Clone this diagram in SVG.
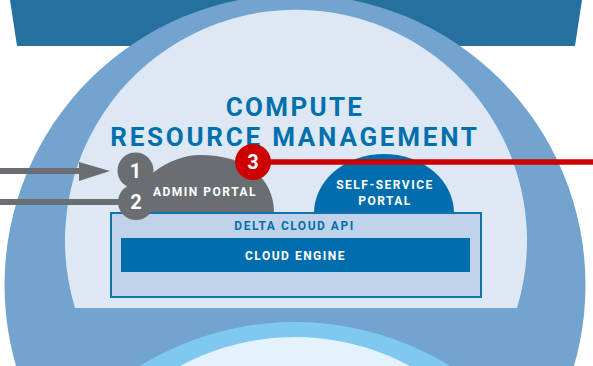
<svg xmlns="http://www.w3.org/2000/svg" width="593" height="366" viewBox="0 0 593 366">
<style>
text{font-family:"Roboto","Liberation Sans",sans-serif;font-weight:700;text-anchor:middle}
.t{font-size:26px;fill:#0070ac;letter-spacing:2.3px}
.s{font-size:12px;fill:#fff;letter-spacing:1.5px}
.n{font-size:20px;fill:#fff}
.g{fill:#6a6e73}
</style>
<rect width="593" height="366" fill="#fff"/>
<g id="backdrop">
<path d="M10 0H582L575 46H17Z" fill="#26709f"/>
<circle cx="295" cy="285" r="290.5" fill="#73a4cf"/>
<path d="M75 308A231 231 0 1 1 517 308Z" fill="#dee8f5"/>
<circle cx="295" cy="617" r="295" fill="#7fc9f0"/>
<circle cx="295" cy="580" r="243" fill="#e3f2fc"/>
</g>
<g id="title">
<text class="t" x="295" y="116">COMPUTE</text>
<text class="t" x="295" y="146" style="letter-spacing:2.75px">RESOURCE MANAGEMENT</text>
</g>
<g id="admin-portal">
<path class="g" d="M140 213V185L154 172C168 161 185 155 200 155C242 155 274 175 274 213Z"/>
<text class="s" x="205" y="196">ADMIN PORTAL</text>
</g>
<g id="self-service-portal">
<path d="M314 213A70 59 0 0 1 454 213Z" fill="#006eae"/>
<text class="s" x="385" y="189">SELF-SERVICE</text>
<text class="s" x="385" y="205">PORTAL</text>
</g>
<g id="delta-cloud-api">
<rect x="111" y="213" width="370" height="84" fill="#c1d3ea" stroke="#1272b0" stroke-width="2"/>
<text class="s" x="294.500" y="230" style="fill:#0070ac">DELTA CLOUD API</text>
</g>
<g id="cloud-engine">
<rect x="121" y="238" width="349" height="34" fill="#006eae"/>
<text class="s" x="295.500" y="260">CLOUD ENGINE</text>
</g>
<g id="connectors">
<path d="M0 171H82" stroke="#6a6e73" stroke-width="6" fill="none"/>
<path class="g" d="M79 162L110 171L79 181Z"/>
<path d="M0 202H125" stroke="#6a6e73" stroke-width="6" fill="none"/>
<path d="M253 162H593" stroke="#cc0000" stroke-width="5.5" fill="none"/>
</g>
<g id="badge-1"><circle class="g" cx="135.500" cy="170.500" r="18"/><text class="n" x="135.500" y="178">1</text></g>
<g id="badge-2"><circle class="g" cx="136" cy="202" r="18"/><text class="n" x="136" y="209">2</text></g>
<g id="badge-3"><circle cx="253" cy="162" r="18" fill="#cc0000"/><text class="n" x="253" y="169">3</text></g>
</svg>
